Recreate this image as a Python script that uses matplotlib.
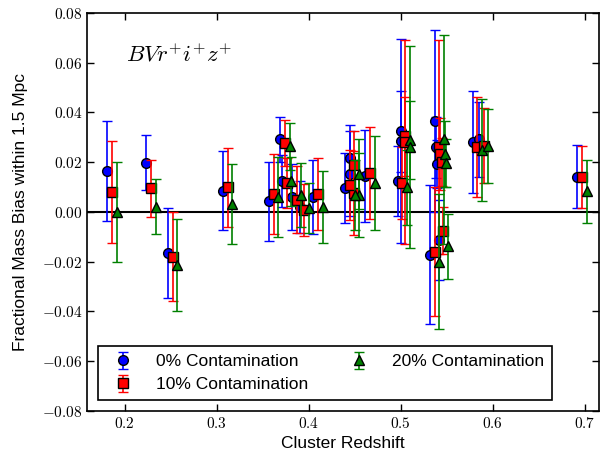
import numpy as np
import matplotlib
matplotlib.use("Agg")
import matplotlib.pyplot as plt

plt.rcParams['mathtext.fontset'] = 'cm'
plt.rcParams['font.family'] = ['Liberation Sans', 'DejaVu Sans']

# Cluster redshifts and mass bias per contamination level
redshift = [0.181, 0.2235, 0.247, 0.307, 0.357, 0.369, 0.371, 0.382, 0.390,
            0.405, 0.4445, 0.4445, 0.4398, 0.4614, 0.500, 0.500, 0.4966,
            0.5317, 0.541, 0.537, 0.538, 0.5396, 0.578, 0.585, 0.692]

bias_0 = [0.0165, 0.0198, -0.0165, 0.0085, 0.0042, 0.0292, 0.0123, 0.0060, 0.0020,
          0.0060, 0.0216, 0.0153, 0.0095, 0.0145, 0.0323, 0.0284, 0.0123,
          -0.0172, -0.0113, 0.0366, 0.0259, 0.0192, 0.0280, 0.0292, 0.0142]
err_0 = [0.0200, 0.0110, 0.0180, 0.0160, 0.0160, 0.0090, 0.0105, 0.0134, 0.0104,
         0.0150, 0.0135, 0.0170, 0.0140, 0.0185, 0.0163, 0.0410, 0.0140,
         0.0280, 0.0160, 0.0366, 0.0124, 0.0095, 0.0204, 0.0150, 0.0127]

bias_10 = [0.0080, 0.0094, -0.0180, 0.0098, 0.0072, 0.0276, 0.0115, 0.0048, 0.0008,
           0.0072, 0.0189, 0.0075, 0.0109, 0.0158, 0.0303, 0.0279, 0.0117,
           -0.0160, -0.0076, 0.0260, 0.0233, 0.0200, 0.0260, 0.0266, 0.0140]
err_10 = [0.0205, 0.0115, 0.0180, 0.0160, 0.0160, 0.0093, 0.0100, 0.0135, 0.0104,
          0.0145, 0.0135, 0.0170, 0.0140, 0.0185, 0.0157, 0.0410, 0.0145,
          0.0260, 0.0095, 0.0430, 0.0144, 0.0095, 0.0200, 0.0150, 0.0126]

bias_20 = [0.0000, 0.0020, -0.0215, 0.0032, 0.0059, 0.0263, 0.0122, 0.0068, 0.0015,
           0.0019, 0.0153, 0.0068, 0.0068, 0.0115, 0.0288, 0.0260, 0.0099,
           -0.0200, -0.0139, 0.0292, 0.0233, 0.0196, 0.0250, 0.0265, 0.0082]
err_20 = [0.0200, 0.0110, 0.0185, 0.0160, 0.0160, 0.0095, 0.0100, 0.0130, 0.0100,
          0.0145, 0.0140, 0.0170, 0.0140, 0.0190, 0.0158, 0.0405, 0.0150,
          0.0270, 0.0130, 0.0420, 0.0134, 0.0095, 0.0205, 0.0150, 0.0125]

labels = ['0% Contamination', '10% Contamination', '20% Contamination']
colors = ['#0000ff', '#ff0000', '#008000']
markers = ['o', 's', '^']

xticks = [0.2, 0.3, 0.4, 0.5, 0.6, 0.7]
yticks = [-0.08, -0.06, -0.04, -0.02, 0.0, 0.02, 0.04, 0.06, 0.08]

fig = plt.figure(figsize=(6.01, 4.58), dpi=100)
ax = fig.add_axes([0.145, 0.103, 0.851, 0.869])

ax.axhline(0, color='k', lw=1.5, zorder=1)

series = [(bias_0, err_0), (bias_10, err_10), (bias_20, err_20)]
for i, (vals, errs) in enumerate(series):
    # shift each contamination level slightly in redshift so bars don't overlap
    x = np.array(redshift) + 0.005 * i
    ax.errorbar(x, vals, yerr=errs, fmt=markers[i], color=colors[i], ecolor=colors[i],
                mfc=colors[i], mec='k', mew=1.0, ms=7, elinewidth=1.2, capsize=3.5,
                capthick=1.2, label=labels[i], zorder=2 + i)

ax.set_xlim(0.159, 0.715)
ax.set_ylim(-0.08, 0.08)
ax.set_xticks(xticks)
ax.set_yticks(yticks)
ax.set_xticklabels([f'${v:.1f}$' for v in xticks], fontsize=11)
ax.set_yticklabels([f'${v:.2f}$' for v in yticks], fontsize=11)
ax.tick_params(direction='in', top=True, right=True, length=5, width=1)
for s in ax.spines.values():
    s.set_linewidth(1.2)

ax.set_xlabel('Cluster Redshift', fontsize=12.5, labelpad=4)
ax.set_ylabel('Fractional Mass Bias within 1.5 Mpc', fontsize=12.5, labelpad=10)

ax.text(0.075, 0.895, r'$BVr^{+}i^{+}z^{+}$', transform=ax.transAxes, fontsize=16.5,
        ha='left', va='center')

leg = ax.legend(loc='lower left', bbox_to_anchor=(0.021, 0.027), ncol=2, fontsize=12.5,
                numpoints=1, fancybox=False, framealpha=1, borderaxespad=0,
                handletextpad=0.9, columnspacing=1.9, borderpad=0.45, labelspacing=0.45)
leg.get_frame().set_edgecolor('k')
leg.get_frame().set_linewidth(1.2)

fig.savefig('out.png', dpi=100)
